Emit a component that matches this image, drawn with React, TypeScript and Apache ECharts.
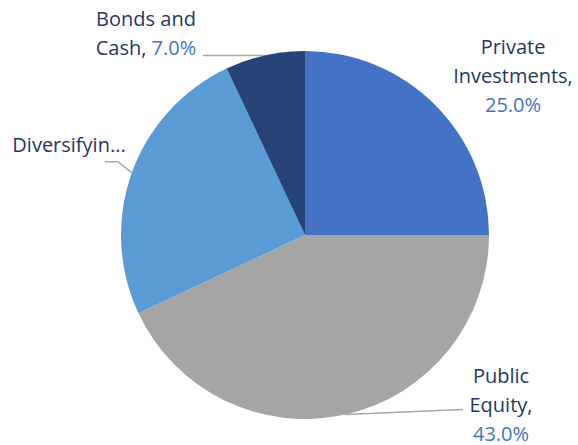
import React, { useEffect, useRef } from "react";
import * as echarts from "echarts";

const categories = ["Private Investments", "Public Equity", "Diversifying Strategies", "Bonds and Cash"];
const labelNames = ["Private\nInvestments,\n", "Public\nEquity,\n", "Diversifyin...", "Bonds and\nCash, "];
const values = [25.0, 43.0, 25.0, 7.0];
const showValue = [true, true, false, true];
const colors = ["#4472C4", "#A5A5A5", "#5B9BD5", "#264478"];

const CX = 305;
const CY = 235;
const R = 184;
const labelPos = [
  { x: 513, y: 75 },
  { x: 501, y: 404 },
  { x: 69, y: 144 },
  { x: 146, y: 33 },
];

export default function App() {
  const ref = useRef<HTMLDivElement>(null);
  useEffect(() => {
    if (!ref.current) return;
    const chart = echarts.init(ref.current, null, { renderer: "svg" });
    const total = values.reduce((a, b) => a + b, 0);
    const mids: number[][] = [];
    let acc = 0;
    values.forEach((v) => {
      const midFrac = (acc + v / 2) / total;
      const ang = Math.PI / 2 - midFrac * 2 * Math.PI;
      mids.push([CX + R * Math.cos(ang), CY - R * Math.sin(ang)]);
      acc += v;
    });
    const linePointsFor = (i: number) => {
      const p = mids[i];
      if (i === 3) return [p, [203, p[1]]];
      if (i === 1) return [p, [463, p[1] - 5]];
      if (i === 2) return [p, [p[0] - 14, p[1] - 11], [p[0] - 27, p[1] - 11]];
      return null;
    };
    chart.setOption({
      animation: false,
      series: [
        {
          type: "pie",
          center: [CX, CY],
          radius: R,
          startAngle: 90,
          clockwise: true,
          silent: true,
          data: categories.map((c, i) => ({
            name: c,
            value: values[i],
            itemStyle: { color: colors[i] },
            labelLine: { show: i !== 0 },
          })),
          label: {
            show: true,
            position: "outside",
            overflow: "none",
            edgeDistance: 0,
            bleedMargin: 0,
            formatter: (p: any) => {
              const i = p.dataIndex;
              return showValue[i]
                ? `{n|${labelNames[i]}}{v|${values[i].toFixed(1)}%}`
                : `{n|${labelNames[i]}}`;
            },
            fontFamily: "Open Sans",
            fontSize: 20,
            lineHeight: 29,
            rich: {
              n: { color: "#1F3864", fontFamily: "Open Sans", fontSize: 20, lineHeight: 29 },
              v: { color: "#4472C4", fontFamily: "Open Sans", fontSize: 20, lineHeight: 29 },
            },
          },
          labelLine: {
            show: true,
            lineStyle: { color: "#A6A6A6", width: 1.5 },
          },
          labelLayout: (params: any) => {
            const i = params.dataIndex;
            const out: any = {
              x: labelPos[i].x,
              y: labelPos[i].y,
              align: "center",
              verticalAlign: "middle",
              width: 200,
            };
            const pts = linePointsFor(i);
            if (pts) out.labelLinePoints = pts;
            return out;
          },
        },
      ],
    });
    return () => chart.dispose();
  }, []);
  return (
    <div
      ref={ref}
      style={{ position: "fixed", left: 0, top: 0, width: 578, height: 445, background: "#fff" }}
    />
  );
}
